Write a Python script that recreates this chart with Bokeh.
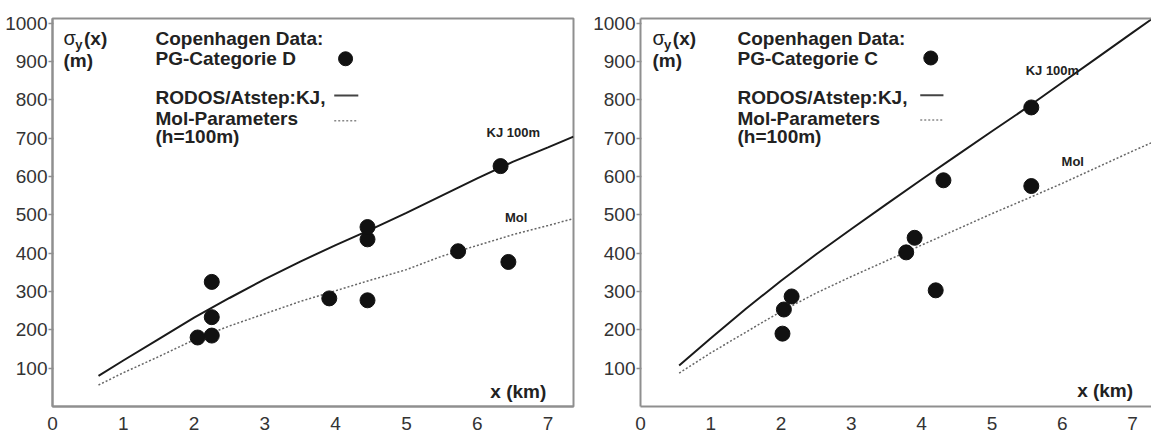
from bokeh.plotting import figure
from bokeh.layouts import row
from bokeh.models import Range1d, FixedTicker, Label, LinearAxis
from bokeh.embed import file_html
from bokeh.resources import INLINE

# ---------------- data: left panel (PG category D) ----------------
d_obs_x = [2.05, 2.25, 2.25, 2.25, 3.91, 4.45, 4.45, 4.45, 5.73, 6.44, 6.33]
d_obs_y = [180, 185, 233, 325, 282, 277, 436, 468, 405, 377, 627]
d_kj_x = [0.65, 1.0, 1.5, 2.0, 2.5, 3.0, 3.5, 4.0, 4.5, 5.0, 5.5, 6.0, 6.5, 7.0, 7.36]
d_kj_y = [80, 120, 176, 232, 283, 332, 378, 421, 462, 505, 550, 595, 638, 676, 704]
d_mol_x = [0.65, 1.0, 1.5, 2.0, 2.5, 3.0, 3.5, 4.0, 4.5, 5.0, 5.5, 6.0, 6.5, 7.0, 7.36]
d_mol_y = [56, 88, 130, 174, 210, 242, 274, 302, 330, 357, 392, 420, 448, 472, 490]

# ---------------- data: right panel (PG category C) ----------------
c_obs_x = [2.02, 2.04, 2.15, 3.78, 3.90, 4.20, 4.31, 5.56, 5.56]
c_obs_y = [190, 253, 287, 402, 440, 303, 590, 780, 575]
c_kj_x = [0.55, 1.0, 1.5, 2.0, 2.5, 3.0, 3.5, 4.0, 4.5, 5.0, 5.5, 6.0, 6.5, 7.0, 7.27]
c_kj_y = [107, 178, 255, 328, 397, 463, 528, 592, 655, 718, 780, 845, 910, 975, 1010]
c_mol_x = [0.55, 1.0, 1.5, 2.0, 2.5, 3.0, 3.5, 4.0, 4.5, 5.0, 5.5, 6.0, 6.5, 7.0, 7.27]
c_mol_y = [87, 140, 194, 248, 296, 339, 380, 421, 462, 503, 542, 582, 624, 666, 688]

x_ticks = [0, 1, 2, 3, 4, 5, 6, 7]
y_ticks = [100, 200, 300, 400, 500, 600, 700, 800, 900, 1000]

GRAY = "#8f8f8f"
FONT = "Liberation Sans"
TXT = "#222222"
FIG_H = 434


def make_panel(width, xmax, border_left, border_right, right_panel):
    p = figure(width=width, height=FIG_H,
               x_range=Range1d(0, xmax), y_range=Range1d(0, 1012),
               output_backend="svg", toolbar_location=None,
               min_border_left=border_left, min_border_right=border_right,
               min_border_top=18, min_border_bottom=28)
    p.xgrid.visible = False
    p.ygrid.visible = False
    p.background_fill_color = "white"
    p.border_fill_color = "white"
    if right_panel:
        p.outline_line_color = None
        top = LinearAxis(axis_line_color=GRAY, axis_line_width=2,
                         major_tick_line_color=None, minor_tick_line_color=None,
                         major_tick_out=0, major_tick_in=0,
                         major_label_text_font_size="0px",
                         major_label_text_alpha=0.0, major_label_standoff=0)
        p.add_layout(top, "above")
    else:
        p.outline_line_color = GRAY
        p.outline_line_width = 2
        p.outline_line_alpha = 1.0

    xa = p.below[0]
    xa.ticker = FixedTicker(ticks=x_ticks)
    xa.axis_line_color = GRAY
    xa.axis_line_width = 2
    xa.major_tick_line_color = None
    xa.minor_tick_line_color = None
    xa.major_tick_out = 0
    xa.major_tick_in = 0
    xa.major_label_standoff = 10
    xa.major_label_text_font = FONT
    xa.major_label_text_font_size = "19px"
    xa.major_label_text_line_height = 0.6
    xa.major_label_text_color = "#333333"

    ya = p.left[0]
    ya.ticker = FixedTicker(ticks=y_ticks)
    ya.axis_line_color = GRAY
    ya.axis_line_width = 2
    ya.major_tick_line_color = GRAY
    ya.major_tick_line_width = 1.5
    ya.major_tick_out = 4
    ya.major_tick_in = 1
    ya.minor_tick_line_color = None
    ya.major_label_standoff = 1
    ya.major_label_text_font = FONT
    ya.major_label_text_font_size = "19px"
    ya.major_label_text_color = "#333333"
    return p


def add_text(p, x, y, text, size="19px", bold=True, align="left", color=TXT):
    p.add_layout(Label(x=x, y=y, text=text, text_font=FONT, text_font_size=size,
                       text_font_style="bold" if bold else "normal",
                       text_color=color, text_align=align, text_baseline="middle"))


def decorate(p, cat, sx, tx, dot_x, dot_y, key_x0, key_x1, solid_y, dot_line_y,
             kj_lab, mol_lab, xkm):
    # sigma_y(x) (m)
    add_text(p, sx, 960, "σ", size="20px", bold=False)
    add_text(p, sx + 0.165, 944, "y", size="13px", bold=True)
    add_text(p, sx + 0.29, 960, "(x)")
    add_text(p, sx, 902, "(m)")
    # legend block
    add_text(p, tx, 960, "Copenhagen Data:")
    add_text(p, tx, 907, "PG-Categorie " + cat)
    add_text(p, tx, 805, "RODOS/Atstep:KJ,")
    add_text(p, tx, 752, "Mol-Parameters")
    add_text(p, tx, 704, "(h=100m)")
    p.scatter([dot_x], [dot_y], size=14, color="#111111")
    p.line([key_x0, key_x1], [solid_y, solid_y], line_color="#444444", line_width=2)
    p.line([key_x0, key_x1], [dot_line_y, dot_line_y], line_color="#888888",
           line_width=1.5, line_dash="2 2")
    # curve labels
    add_text(p, kj_lab[0], kj_lab[1], "KJ 100m", size="13px", align="center")
    add_text(p, mol_lab[0], mol_lab[1], "Mol", size="13px", align="center")
    add_text(p, xkm[0], xkm[1], "x (km)", size="19px", align="center")


# ---------------- left panel ----------------
p1 = make_panel(590, 7.36, 52, 17, False)
p1.line(d_mol_x, d_mol_y, line_color="#666666", line_width=1.5, line_dash="2 2")
p1.line(d_kj_x, d_kj_y, line_color="#1a1a1a", line_width=2)
p1.scatter(d_obs_x, d_obs_y, size=15, color="#111111")
decorate(p1, "D", 0.155, 1.455, 4.14, 907, 3.98, 4.32, 811, 745,
         (6.51, 714), (6.55, 494), (6.58, 40))

# ---------------- right panel ----------------
p2 = make_panel(561, 7.27, 50, 0, True)
p2.line(c_mol_x, c_mol_y, line_color="#666666", line_width=1.5, line_dash="2 2")
p2.line(c_kj_x, c_kj_y, line_color="#1a1a1a", line_width=2)
p2.scatter(c_obs_x, c_obs_y, size=15, color="#111111")
decorate(p2, "C", 0.17, 1.38, 4.13, 909, 3.98, 4.31, 812, 747,
         (5.86, 877), (6.15, 640), (6.61, 42))

layout = row(p1, p2)
open("out.html", "w").write(file_html(layout, INLINE))
